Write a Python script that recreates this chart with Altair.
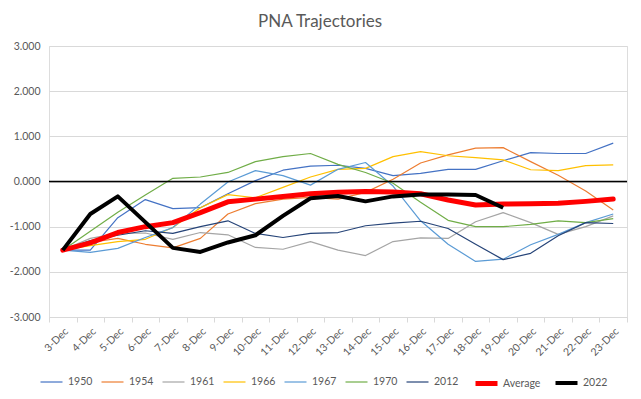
import altair as alt
import pandas as pd

dates = ["3-Dec", "4-Dec", "5-Dec", "6-Dec", "7-Dec", "8-Dec", "9-Dec", "10-Dec",
         "11-Dec", "12-Dec", "13-Dec", "14-Dec", "15-Dec", "16-Dec", "17-Dec",
         "18-Dec", "19-Dec", "20-Dec", "21-Dec", "22-Dec", "23-Dec"]

s1950 = [-1.52, -1.52, -0.80, -0.40, -0.60, -0.58, -0.27, 0.02, 0.25, 0.34, 0.36,
         0.29, 0.13, 0.18, 0.27, 0.27, 0.46, 0.64, 0.62, 0.62, 0.85]
s1954 = [-1.52, -1.35, -1.26, -1.39, -1.47, -1.26, -0.72, -0.49, -0.39, -0.35, -0.39,
         -0.24, 0.05, 0.41, 0.59, 0.74, 0.75, 0.44, 0.14, -0.21, -0.63]
s1961 = [-1.52, -1.26, -1.15, -1.14, -1.28, -1.13, -1.18, -1.46, -1.50, -1.33, -1.52,
         -1.64, -1.33, -1.25, -1.26, -0.89, -0.69, -0.91, -1.17, -1.00, -0.76]
s1966 = [-1.52, -1.42, -1.33, -1.28, -1.02, -0.58, -0.29, -0.36, -0.13, 0.10, 0.27,
         0.29, 0.55, 0.66, 0.57, 0.53, 0.48, 0.26, 0.24, 0.35, 0.37]
s1967 = [-1.52, -1.57, -1.48, -1.24, -1.02, -0.50, -0.01, 0.24, 0.13, -0.08, 0.27,
         0.42, -0.10, -0.87, -1.39, -1.77, -1.72, -1.40, -1.17, -0.91, -0.72]
s1970 = [-1.52, -1.10, -0.68, -0.30, 0.07, 0.10, 0.20, 0.44, 0.55, 0.62, 0.38,
         0.20, -0.04, -0.46, -0.86, -1.00, -1.00, -0.95, -0.87, -0.91, -0.82]
s2012 = [-1.52, -1.31, -1.19, -1.09, -1.15, -1.00, -0.87, -1.15, -1.24, -1.15, -1.13,
         -0.98, -0.92, -0.88, -1.04, -1.39, -1.73, -1.59, -1.20, -0.91, -0.93]
average = [-1.52, -1.36, -1.13, -1.00, -0.91, -0.69, -0.45, -0.39, -0.33, -0.27, -0.24,
           -0.22, -0.23, -0.27, -0.41, -0.52, -0.50, -0.49, -0.48, -0.44, -0.39]
s2022 = [-1.52, -0.72, -0.33, -0.90, -1.47, -1.56, -1.35, -1.19, -0.76, -0.37, -0.32,
         -0.44, -0.33, -0.29, -0.29, -0.30, -0.58]

series_names = ["1950", "1954", "1961", "1966", "1967", "1970", "2012", "Average", "2022"]
series_values = [s1950, s1954, s1961, s1966, s1967, s1970, s2012, average, s2022]
colors = ["#4472C4", "#ED7D31", "#A5A5A5", "#FFC000", "#5B9BD5", "#70AD47", "#264478",
          "#FF0000", "#000000"]
widths = [1.2, 1.2, 1.2, 1.2, 1.2, 1.2, 1.2, 5, 4]

rows = []
for name, vals in zip(series_names, series_values):
    for d, v in zip(dates, vals):
        rows.append({"Date": d, "Value": v, "Series": name})
df = pd.DataFrame(rows)

FONT = "Lato"
LABEL = "#595959"
GRID = "#D9D9D9"

x = alt.X("Date:N", sort=dates, scale=alt.Scale(domain=dates, paddingInner=0, paddingOuter=0),
          axis=alt.Axis(title=None, labelAngle=-45, labelColor=LABEL, labelFont=FONT,
                        labelFontSize=10.5, domainColor=GRID, tickColor=GRID, tickSize=5,
                        tickBand="extent", labelPadding=4, grid=False))
y = alt.Y("Value:Q", scale=alt.Scale(domain=[-3, 3], nice=False),
          axis=alt.Axis(title=None, values=[-3, -2, -1, 0, 1, 2, 3],
                        labelExpr="(datum.value < 0 ? '-' : '') + format(abs(datum.value), '.3f')",
                        labelColor=LABEL, labelFont=FONT, labelFontSize=10.5,
                        domain=False, ticks=False, labelPadding=9,
                        gridColor=GRID, gridWidth=1))

legend = alt.Legend(title=None, orient="none", legendX=-11, legendY=324,
                    direction="horizontal", columns=9, gridAlign="none",
                    symbolType="stroke", symbolSize=484,
                    labelFont=FONT, labelFontSize=10.5, labelColor=LABEL,
                    labelOffset=3, columnPadding=6)

color = alt.Color("Series:N", scale=alt.Scale(domain=series_names, range=colors), legend=legend)
sw = alt.StrokeWidth("Series:N",
                     scale=alt.Scale(type="ordinal", domain=series_names, range=widths),
                     legend=legend)

base = alt.Chart(df)

zero = alt.Chart(pd.DataFrame({"z": [0]})).mark_rule(color="black", strokeWidth=1.3).encode(
    y=alt.Y("z:Q", scale=alt.Scale(domain=[-3, 3], nice=False))
)

thin = base.transform_filter(
    alt.FieldOneOfPredicate(field="Series", oneOf=series_names[:7])
).mark_line(strokeJoin="round").encode(x=x, y=y, color=color, strokeWidth=sw)

avg_line = base.transform_filter(
    alt.FieldEqualPredicate(field="Series", equal="Average")
).mark_line(strokeJoin="round", strokeCap="round").encode(x=x, y=y, color=color, strokeWidth=sw)

line22 = base.transform_filter(
    alt.FieldEqualPredicate(field="Series", equal="2022")
).mark_line(strokeJoin="round").encode(x=x, y=y, color=color, strokeWidth=sw)

chart = alt.layer(thin, zero, avg_line, line22).properties(
    width=578, height=271,
    title=alt.TitleParams("PNA Trajectories", font=FONT, fontSize=17, fontWeight="normal",
                          color=LABEL, anchor="middle", dx=-18, offset=10),
    autosize=alt.AutoSizeParams(type="none"),
    padding={"left": 41, "top": 38, "right": 6, "bottom": 82},
).configure_view(stroke=None).configure(background="white")

chart.save("out.html", embed_options={"renderer": "svg", "actions": False})
